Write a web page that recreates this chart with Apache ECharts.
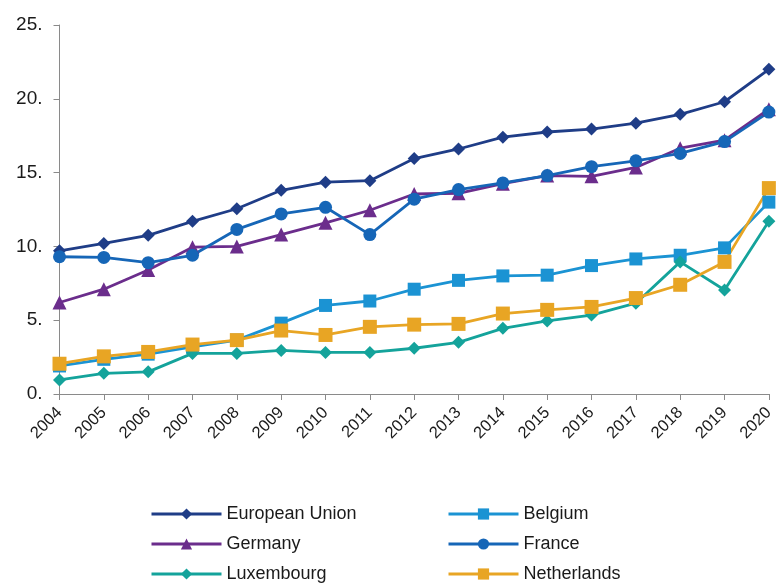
<!DOCTYPE html>
<html><head><meta charset="utf-8">
<script src="https://cdn.jsdelivr.net/npm/echarts@6/dist/echarts.min.js"></script>
<style>html,body{margin:0;padding:0;background:#fff}#c{width:777px;height:583px}</style>
</head><body><div id="c"></div>
<script>
const years = ['2004','2005','2006','2007','2008','2009','2010','2011','2012','2013','2014','2015','2016','2017','2018','2019','2020'];
const yTicks = [0,5,10,15,20,25];
const euValues = [9.7,10.2,10.75,11.7,12.55,13.8,14.35,14.45,15.95,16.6,17.4,17.75,17.95,18.35,18.95,19.8,22.0];
const belgiumValues = [1.9,2.35,2.7,3.2,3.65,4.8,6.0,6.3,7.1,7.7,8.0,8.05,8.7,9.15,9.4,9.9,13.0];
const germanyValues = [6.2,7.1,8.4,9.95,10.0,10.8,11.6,12.45,13.55,13.6,14.25,14.8,14.75,15.35,16.65,17.2,19.3];
const franceValues = [9.3,9.25,8.9,9.4,11.15,12.2,12.65,10.8,13.2,13.85,14.3,14.8,15.4,15.8,16.3,17.1,19.1];
const luxembourgValues = [0.95,1.4,1.5,2.75,2.75,2.95,2.82,2.82,3.1,3.5,4.45,4.95,5.35,6.15,8.95,7.05,11.7];
const netherlandsValues = [2.05,2.55,2.85,3.35,3.65,4.3,4.0,4.55,4.7,4.75,5.45,5.7,5.9,6.5,7.4,8.95,13.95];

const chart = echarts.init(document.getElementById('c'));
const font = 'Liberation Sans, Arial, sans-serif';
function s(name, data, color, symbol, size) {
  return { name, type: 'line', data, symbol, symbolSize: size, showSymbol: true,
    lineStyle: { color, width: 2.8 }, itemStyle: { color }, color, z: 2 };
}
const legendText = { fontSize: 18, fontFamily: font, color: '#1a1a1a', lineHeight: 18 };
chart.setOption({
  animation: false,
  grid: { left: 59.5, right: 8, top: 25, bottom: 189 },
  xAxis: {
    type: 'category', data: years, boundaryGap: false,
    axisLine: { lineStyle: { color: '#8a8a8a', width: 1 } },
    axisTick: { show: true, length: 6, alignWithLabel: true, lineStyle: { color: '#8a8a8a' } },
    axisLabel: { rotate: 45, color: '#1a1a1a', fontSize: 16.5, fontFamily: font, margin: 16, interval: 0 }
  },
  yAxis: {
    type: 'value', min: 0, max: 25, interval: 5,
    splitLine: { show: false },
    axisLine: { show: true, lineStyle: { color: '#8a8a8a', width: 1 } },
    axisTick: { show: true, length: 6, lineStyle: { color: '#8a8a8a' } },
    axisLabel: { color: '#1a1a1a', fontSize: 19, fontFamily: font, margin: 17,
      formatter: v => yTicks.includes(v) ? v + '.' : '' }
  },
  legend: [
    { data: ['European Union','Germany','Luxembourg'], orient: 'vertical', left: 150, top: 505, height: 100,
      itemWidth: 70, itemHeight: 14, itemGap: 12, padding: 0, textStyle: legendText,
      lineStyle: { width: 3 } },
    { data: ['Belgium','France','Netherlands'], orient: 'vertical', left: 447, top: 505, height: 100,
      itemWidth: 70, itemHeight: 14, itemGap: 12, padding: 0, textStyle: legendText,
      lineStyle: { width: 3 } }
  ],
  series: [
    s('European Union', euValues, '#1f3d87', 'diamond', 13),
    s('Belgium', belgiumValues, '#1b93d3', 'rect', 13),
    s('Germany', germanyValues, '#6b2d8c', 'triangle', 14),
    s('France', franceValues, '#1666b7', 'circle', 13),
    s('Luxembourg', luxembourgValues, '#14a39b', 'diamond', 13),
    s('Netherlands', netherlandsValues, '#e8a524', 'rect', 14)
  ]
});
</script></body></html>
